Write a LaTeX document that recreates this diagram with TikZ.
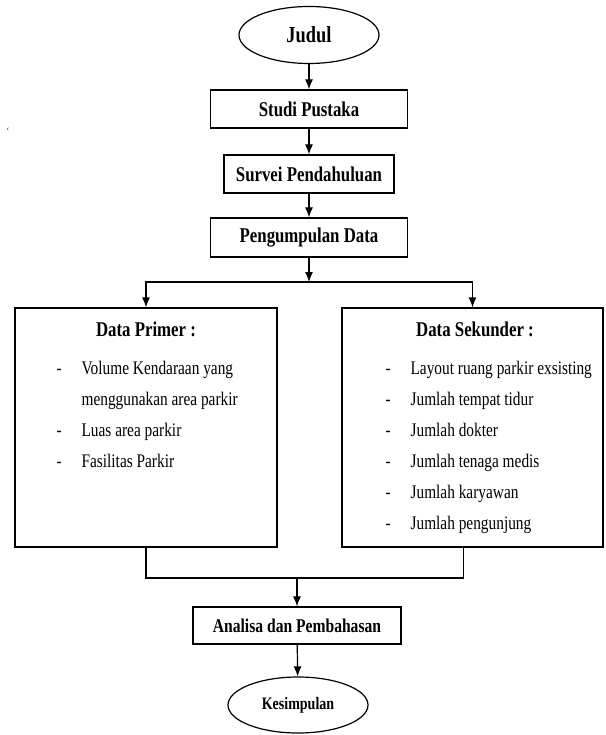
\documentclass[tikz,border=0pt]{standalone}
\usepackage{fontspec}
\setmainfont{Liberation Serif}[FakeStretch=0.8]
\usetikzlibrary{shapes.geometric,arrows.meta}

\tikzset{
	kotak/.style={draw, rectangle, inner sep=0pt, font=\bfseries\fontsize{21}{25}\selectfont},
	elips/.style={draw, ellipse, inner sep=0pt, minimum width=140pt},
	judulbox/.style={font=\bfseries\fontsize{21}{25}\selectfont},
	isi/.style={anchor=west, inner sep=0pt, text height=13pt, text depth=4pt, font=\fontsize{19.2}{23}\selectfont}
}

\begin{document}
\begin{tikzpicture}[x=1pt, y=-1pt, line width=1.2pt, >={Latex[length=10pt,width=8pt]}]
	\useasboundingbox (0,0) rectangle (605,735);

		% Alur atas
			\node[elips, minimum height=57pt, font=\bfseries\fontsize{23}{27}\selectfont] (judul) at (309,35) {Judul};
			\node[kotak, minimum width=197pt, minimum height=38pt] (studi) at (309,109) {Studi Pustaka};
			\node[kotak, minimum width=170pt, minimum height=38pt] (survei) at (309,174) {Survei Pendahuluan};
			\node[kotak, minimum width=197pt, minimum height=39pt] (kumpul) at (309,237.5) {Pengumpulan Data};
			\node[font=\fontsize{10}{12}\selectfont] (tanda) at (8,131) {`};

		% Kotak data
			\node[draw, inner sep=0pt, minimum width=262pt, minimum height=239pt] (primer) at (146,427.5) {};
			\node[draw, inner sep=0pt, minimum width=261pt, minimum height=239pt] (sekunder) at (472.5,427.5) {};
			\node[judulbox] (jprimer) at (146,329) {Data Primer :};
			\node[judulbox] (jsekunder) at (475,329) {Data Sekunder :};

		% Isi data primer
			\node[isi] (dp1) at (56,370) {-};
			\node[isi] (tp1) at (81,370) {Volume Kendaraan yang};
			\node[isi] (tp1b) at (81,401) {menggunakan area parkir};
			\node[isi] (dp2) at (56,432) {-};
			\node[isi] (tp2) at (81,432) {Luas area parkir};
			\node[isi] (dp3) at (56,463) {-};
			\node[isi] (tp3) at (81,463) {Fasilitas Parkir};

		% Isi data sekunder
			\node[isi] (ds1) at (385,370) {-};
			\node[isi] (ts1) at (410,370) {Layout ruang parkir exsisting};
			\node[isi] (ds2) at (385,401) {-};
			\node[isi] (ts2) at (410,401) {Jumlah tempat tidur};
			\node[isi] (ds3) at (385,432) {-};
			\node[isi] (ts3) at (410,432) {Jumlah dokter};
			\node[isi] (ds4) at (385,463) {-};
			\node[isi] (ts4) at (410,463) {Jumlah tenaga medis};
			\node[isi] (ds5) at (385,494) {-};
			\node[isi] (ts5) at (410,494) {Jumlah karyawan};
			\node[isi] (ds6) at (385,525) {-};
			\node[isi] (ts6) at (410,525) {Jumlah pengunjung};

		% Alur bawah
			\node[kotak, minimum width=208pt, minimum height=37pt, font=\bfseries\fontsize{19.5}{23}\selectfont] (analisa) at (297,625.5) {Analisa dan Pembahasan};
			\node[elips, minimum height=56pt, font=\bfseries\fontsize{17.5}{21}\selectfont] (simpul) at (298,705) {Kesimpulan};

		% Panah
			\coordinate (cabang) at (309,282);
			\coordinate (gabung) at (297,578);
			\draw[->] (judul) -- (studi);
			\draw[->] (studi) -- (survei);
			\draw[->] (survei) -- (kumpul);
			\draw[->] (kumpul) -- (cabang);
			\draw[->] (cabang) -| (primer.north);
			\draw[->] (cabang) -| (sekunder.north);
			\draw (primer.south) |- (gabung);
			\draw ([xshift=-9pt]sekunder.south) |- (gabung);
			\draw[->] (gabung) -- (analisa);
			\draw[->] (analisa) -- (simpul);
\end{tikzpicture}
\end{document}
